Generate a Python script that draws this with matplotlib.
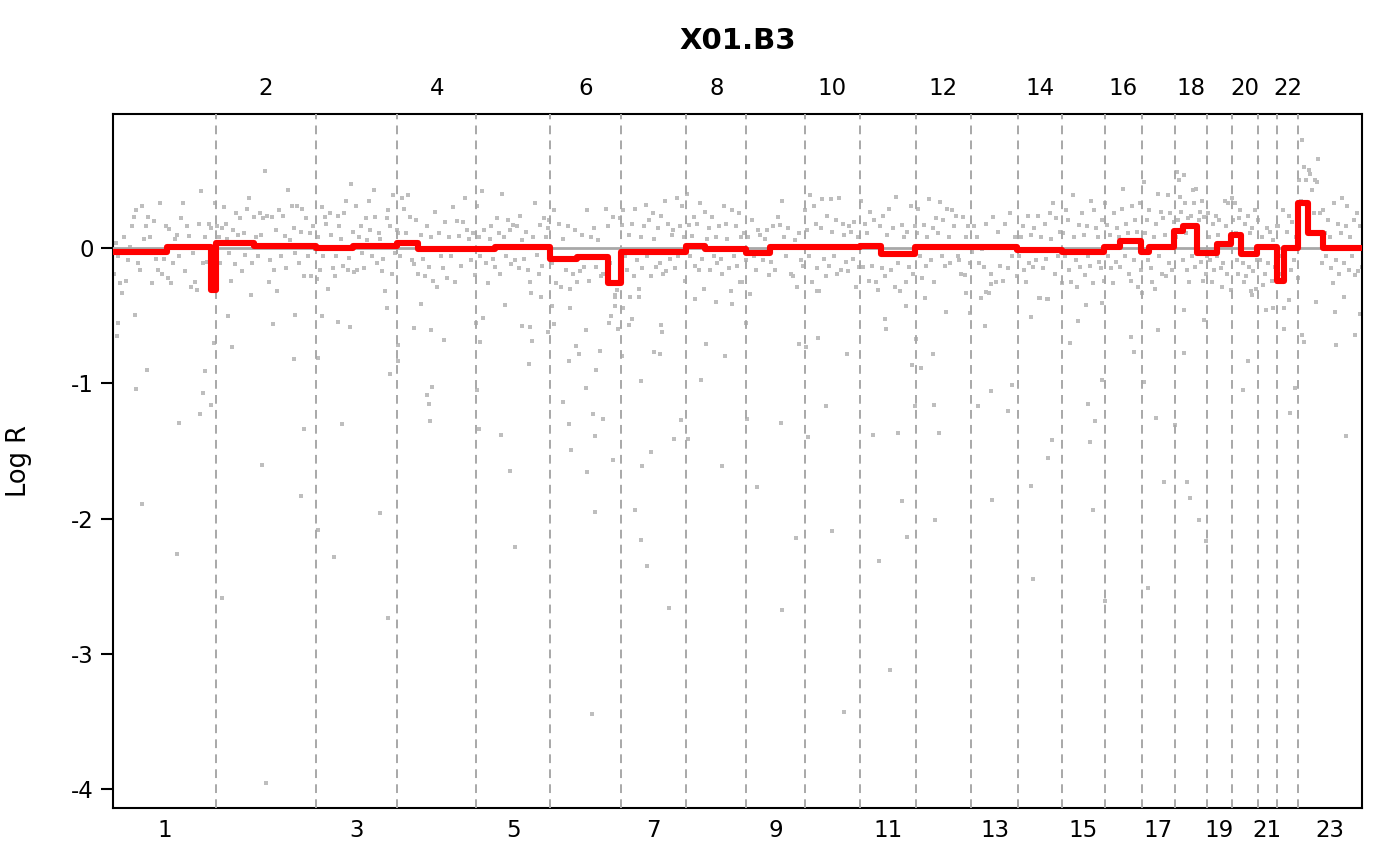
import numpy as np
import matplotlib
matplotlib.use("Agg")
import matplotlib.pyplot as plt

# ---------------- data ----------------
title = "X01.B3"
chrom_labels = [str(i) for i in range(1, 24)]
# chromosome lengths (Mb, hg19)
chrom_len_mb = [249.25, 243.20, 198.02, 191.15, 180.92, 171.12, 159.14, 146.36,
                141.21, 135.53, 135.01, 133.85, 115.17, 107.35, 102.53, 90.35,
                81.20, 78.08, 59.13, 63.03, 48.13, 51.30, 155.27]
ytick_values = [0, -1, -2, -3, -4]
ytick_labels = ["0", "-1", "-2", "-3", "-4"]

# log-ratio values of the probes inside the main band, per chromosome (left to right)
band_c1 = [-.19, .04, -.06, -.26, -.33, .08, -.24, -.09, .01, .16, .23, .28, -.11, -.16, .31, .07, .16, .23, .08, -.26,
           .20, -.08, -.16, .33, -.19, -.08, .16, -.22, .14, -.26, -.11, .07, .10, -.06, .22, .33, -.17, .16, .09, -.29,
           -.04, -.25, -.31, .18, .42, -.11, .08, -.10, .18, .15, -.04, .33]
band_c2 = [.16, .08, -.11, .15, .30, .18, .07, -.04, -.24, .13, -.12, .26, .10, .22, -.17, .11, -.05, .29, .37, -.35,
           -.11, .23, .08, -.06, .26, .10, .22, .57, .24, -.25, -.09, .23, -.16, .13, -.32, .28, -.06, .24, .09, -.15,
           .43, .06, .31, .15, -.04, .31, -.11, .12, .29, -.21, .22, -.06, .11, -.21, .16, -.01]
band_c3 = [-.23, .08, -.16, .30, -.06, .23, .18, -.30, .26, .10, -.15, -.21, -.06, .24, .16, .07, -.13, .26, .35, -.16,
           -.07, .47, .12, -.18, .31, -.16, .08, .16, -.04, -.15, .22, .06, .35, .13, -.06, .43, .23, -.11, .11, .07,
           -.17, -.08, -.32, .22, .28, .16, -.19, .39, -.04, .13]
band_c4 = [.11, -.06, .37, .29, .11, .39, .23, -.09, -.12, .21, -.19, .10, -.08, -.21, .16, -.14, .08, -.24, .27, -.29,
           .11, -.06, -.15, .19, -.22, .08, -.06, .30, -.25, .20, .09, -.13, .19, .37, .13, .07, -.09, .11, -.20]
band_c5 = [.31, .08, -.06, .42, .13, -.11, -.26, .07, .16, -.08, -.14, .22, .11, -.19, .40, .08, -.06, .21, .13, -.12,
           .17, -.09, .16, -.15, .24, .06, -.08, .12, -.16, -.25, -.33, .08, .33, -.05, -.19, .17, -.13, .22, .08, .15, .21]
band_c6 = [-.11, .28, -.26, .18, -.29, .07, -.16, .16, -.30, -.19, .13, -.25, -.17, .10, -.14, .28, -.24, .08, .15, -.14,
           .06, -.21, -.19, .29, .16, -.11, .23, -.36, -.31, .22]
band_c7 = [.17, .28, -.06, -.16, .10, -.36, .18, -.21, .29, -.09, -.30, .08, -.15, .16, .32, -.06, .21, -.21, .26, .07,
           -.14, .15, -.11, .24, -.19, .35, -.17, .18, -.08, .10, .13, -.15, .37, -.06, .16, .31, .08, -.24]
band_c8 = [.40, .17, -.06, .09, .23, -.13, .18, -.16, .33, -.08, -.30, .27, .07, .15, -.16, .23, -.06, .08, -.11, .16,
           -.08, -.19, .31, .18, .07, -.15, -.32, .28, -.06, .16, -.13, .26, .08, -.25, .11, -.09]
band_c9 = [.08, -.34, .21, -.06, -.16, .13, .10, -.09, .07, .13, -.20, -.10, .16, -.16, .23, .17, .35, .08, -.06, .15,
           -.19, -.21, .06, -.29, .11, -.09, -.13]
band_c10 = [.28, .13, -.06, .39, -.25, .31, .18, -.15, -.32, .15, .36, -.08, -.21, .24, -.13, .36, .12, -.06, .21, -.19,
            .37, -.16, .18, .10, -.10, -.17, .16, .12, -.08, .19, -.29, .08, -.14]
band_c11 = [.35, -.14, .18, .11, -.24, .27, -.13, .21, -.25, -.31, .16, -.15, .24, -.21, .10, .29, -.16, .15, -.29, .38,
            -.11, -.32, .17, .08, -.25, .12, -.14, .31, -.19, .16]
band_c12 = [.11, .29, -.06, -.22, .17, -.13, .08, .36, -.09, .15, -.25, .22, .11, .34, -.06, .21, -.13, .29, .08, -.11,
            .28, .16, .24, -.06, -.09, -.19, .23, -.20, .08, .16, -.11]
band_c13 = [-.03, .16, .08, -.11, -.01, -.14, .18, -.33, -.19, .23, -.25, .12, -.13, -.24, .18, -.15, .26, -.06, .08, -.21]
band_c14 = [-.06, .08, .16, -.16, -.25, .24, -.11, .10, -.14, .15, -.09, .24, -.37, .08, -.15, .18, -.08, -.38, .26, .07,
            .33, -.19, .22, -.06, .12, -.26]
band_c15 = [.11, -.06, .28, .21, -.16, -.25, .39, .08, -.09, -.29, .17, -.14, .26, .10, -.20, .16, -.06, -.13, .35, -.26,
            .28, .15, .08, -.10, -.15, .21, -.24]
band_c16 = [.33, .17, -.06, .10, -.15, -.26, .26, -.10, .15, .08, -.14, .29, .44, -.06, .18, .11, -.19, -.24, .31, -.09,
            .21, .12, -.29, .33, -.16]
band_c17 = [-.33, .49, .11, .21, -.09, .28, -.15, -.25, .08, -.30, .18, .40, -.06, .27, -.19, .22, .10, -.21, .39, -.11,
            .26, -.16, .12, .19]
band_c18 = [.08, .56, .21, .50, .38, .27, -.09, .54, .33, .11, -.16, .22, -.25, .24, -.06, .43, .33, -.14, .44, .06,
            .21, .27, -.10, .35, -.24, .23, -.19, -.06]
band_c19 = [.26, .08, -.09, -.25, .18, -.16, .24, -.06, .10, .21, -.15, -.29, -.11, .35, .16, -.19, .33, .08, -.31]
band_c20 = [.37, .21, .33, .11, -.09, -.19, .22, .28, .08, -.11, -.25, .18, -.21, .24, -.14, .11, -.32, .15, -.17, .28,
            -.30, -.09]
band_c21 = [.21, -.09, .08, -.27, -.19, .15, -.11, .12, -.24, .06, -.14, .16]
band_c22 = [.16, -.06, -.19, .28, -.11, .12, .24, -.16, .19, -.09, .08, -.22]
band_c23 = [.50, .35, .80, .60, .50, .28, .58, .55, .43, .26, .50, .49, .66, .26, -.11, .28, .11, -.06, .21, .08,
            -.15, -.26, .33, -.09, .18, -.19, .11, .37, -.11, .16, .31, -.16, .08, -.06, .21, -.20, .26, -.17, .16, -.14]

# scattered low probes: genome position (cumulative Mb) and log ratio
outlier_pos = [12.1, 9.7, 53.5, 82.6, 55.9, 70.5, 154.8, 159.6, 209.9, 218.7, 223.5, 238.1, 243.9, 264.8, 289.1,
               277.9, 362.0, 371.7, 388.7, 439.0, 456.8, 462.6, 442.2, 498.1, 497.3, 536.9, 556.4, 575.1, 546.6,
               507.8, 648.7, 668.1, 673.0, 691.0, 692.4, 665.7, 729.8, 771.9, 804.2, 762.9, 773.6, 767.7, 770.2,
               882.9, 899.0, 891.6, 885.3, 888.5, 942.7, 964.5, 976.7, 993.7, 1013.1, 1018.0, 1010.7, 1071.4,
               1056.1, 1067.5, 748.3, 953.4,
               1039.8, 1110.3, 1150.1, 1124.2, 1132.2, 1108.8, 1184.1, 1173.5, 1150.1, 1093.3, 1166.2, 1190.5,
               1108.8, 1170.3, 1112.7, 1214.8, 1152.6, 1171.1, 1163.8, 1219.6, 1219.6, 1210.9, 1204.3, 1226.9,
               1239.1, 1260.9, 1252.9, 1277.2, 1237.6, 1282.1, 1313.6, 1328.2, 1331.4, 1333.8, 1308.1, 1285.2,
               1268.2, 1282.8, 1297.4, 1350.8, 1363.0, 1380.0, 1397.0, 1428.6, 1440.0, 1413.3, 1465.0, 1486.9,
               1504.9, 1480.6, 1522.6, 1548.6, 1537.9, 1540.3, 1564.6, 1622.2, 1625.4, 1665.9, 1683.0, 1712.9,
               1731.6, 1687.8, 1746.8, 1660.3, 1710.4, 1783.3, 1777.0, 1845.7, 1862.0, 1874.9, 1879.0, 1887.8,
               1908.2, 1917.9, 1928.3, 1941.2, 1962.3, 1948.5, 1994.7, 1992.2, 2006.1, 1997.1, 1973.8, 1927.6,
               2023.1, 1950.9,
               2083.1, 2118.6, 2133.2, 2101.6, 2135.6, 2174.4, 2184.2, 2230.3, 2230.3, 2235.2, 2281.3, 2271.6,
               2253.9, 2269.2, 2325.1, 2346.2, 2363.9, 2369.8, 2385.8, 2373.7, 2380.9, 2403.8, 2411.1, 2402.9,
               2474.2, 2480.6, 2504.9, 2538.9, 2535.0, 2553.5, 2516.3, 2581.9, 2603.8, 2602.1, 2609.3, 2616.6,
               2640.2, 2655.5, 2652.4, 2745.4, 2757.5, 2859.6, 2871.7, 2845.0, 2888.7, 2894.6, 2971.3, 2970.0,
               2990.8, 2924.4, 3017.5, 2997.3, 2801.3, 2818.3, 2845.0, 2858.8, 3030.6, 2121.0, 2133.2, 2072.4,
               2108.8, 2767.2]
outlier_logr = [-0.556, -0.648, -0.498, -0.904, -1.044, -1.894, -2.264, -1.290, -1.226, -1.071, -0.912, -1.158,
                -0.701, -2.589, -0.733, -0.503, -1.604, -3.956, -0.564, -0.822, -1.834, -1.337, -0.495, -0.812,
                -2.087, -2.285, -1.303, -0.585, -0.545, -0.503, -1.960, -2.734, -0.933, -0.836, -0.714, -0.445,
                -0.593, -0.606, -0.683, -1.087, -1.028, -1.150, -1.277, -0.551, -0.519, -0.693, -1.047, -1.340,
                -1.382, -1.649, -2.211, -0.577, -0.582, -0.688, -0.860, -0.561, -0.622, -0.429, -0.411, -0.421,
                -0.363, -0.442, -0.609, -0.722, -0.786, -0.836, -0.762, -0.902, -1.034, -1.137, -1.229, -1.261,
                -1.300, -1.393, -1.493, -1.567, -1.657, -1.952, -3.444, -0.350, -0.429, -0.503, -0.551, -0.595,
                -0.445, -0.524, -0.569, -0.361, -0.801, -0.983, -0.772, -0.783, -0.569, -0.622, -1.509, -1.609,
                -1.937, -2.161, -2.351, -2.665, -1.414, -1.274, -1.414, -0.976, -0.712, -0.379, -0.400, -0.799,
                -0.416, -1.612, -0.252, -0.342, -0.551, -1.263, -1.765, -1.290, -2.676, -0.712, -0.728, -0.667,
                -1.168, -1.398, -2.092, -2.145, -0.318, -0.786, -3.431, -1.382, -2.314, -0.522, -0.601, -3.122,
                -1.369, -1.871, -2.137, -0.865, -0.889, -1.168, -1.158, -0.780, -1.369, -2.010, -0.368, -0.429,
                -0.474, -0.669,
                -0.482, -0.577, -1.057, -1.168, -1.863, -1.205, -1.010, -0.511, -1.760, -2.449, -1.419, -1.554,
                -0.371, -0.379, -0.704, -0.540, -0.421, -1.150, -1.277, -1.435, -1.937, -0.976, -2.607, -0.403,
                -0.659, -0.772, -0.989, -0.609, -1.258, -1.731, -2.517, -1.308, -0.456, -0.775, -1.728, -1.849,
                -2.008, -2.164, -0.530, -1.050, -0.833, -1.216, -1.036, -0.601, -0.643, -0.693, -0.717, -0.474,
                -0.363, -0.400, -0.643, -1.390, -0.458, -0.442, -0.445, -0.384, -0.485, -0.326, -0.265, -0.332,
                -0.366, -0.347]

# segmentation result (cumulative Mb start, end, segment mean)
seg_start = [0, 130.0, 237.5, 249.25, 341.8, 492.45, 582.3, 690.47, 740.3, 881.63, 927.4, 1062.54, 1126.2,
             1202.9, 1233.66, 1392.8, 1437.6, 1539.16, 1595.5, 1680.37, 1815.9, 1866.8, 1948.91, 2082.76,
             2197.93, 2305.28, 2407.81, 2447.8, 2498.16, 2518.7, 2579.36, 2599.6, 2635.3, 2684.0, 2716.57,
             2742.1, 2779.6, 2827.73, 2847.0, 2879.03, 2903.3, 2939.8]
seg_end = seg_start[1:] + [3034.30]
seg_value = [-0.027, 0.005, -0.31, 0.035, 0.017, 0.002, 0.015, 0.035, -0.007, -0.007, 0.008, -0.084, -0.064,
             -0.26, -0.027, 0.017, -0.007, -0.034, 0.01, 0.005, 0.017, -0.047, 0.01, 0.008, -0.015, -0.03, 0.01,
             0.054, -0.027, 0.01, 0.128, 0.165, -0.034, 0.03, 0.10, -0.044, 0.01, -0.244, 0.002, 0.335, 0.108,
             -0.002]

band_lists = [band_c1, band_c2, band_c3, band_c4, band_c5, band_c6, band_c7, band_c8, band_c9, band_c10,
              band_c11, band_c12, band_c13, band_c14, band_c15, band_c16, band_c17, band_c18, band_c19,
              band_c20, band_c21, band_c22, band_c23]

# ---------------- derived positions ----------------
chrom_len = np.array(chrom_len_mb)
chrom_end = np.cumsum(chrom_len)
chrom_start = chrom_end - chrom_len
chrom_mid = (chrom_start + chrom_end) / 2
genome_end = chrom_end[-1]

band_x, band_y = [], []
for s, L, vals in zip(chrom_start, chrom_len, band_lists):
    n = len(vals)
    band_x.extend(s + (np.arange(n) + 0.5) / n * L)
    band_y.extend(vals)

seg_x = np.column_stack([seg_start, seg_end]).ravel()
seg_y = np.repeat(seg_value, 2)

# ---------------- figure ----------------
W, H = 1400, 866
fig = plt.figure(figsize=(W / 100, H / 100), dpi=100)
left, right, top, bottom = 113.3, 1362.3, 114, 808
ax = fig.add_axes([left / W, 1 - bottom / H, (right - left) / W, (bottom - top) / H])

pt_col = "#BEBEBE"
ax.scatter(band_x, band_y, s=11, marker="s", c=pt_col, linewidths=0, zorder=2)
ax.scatter(outlier_pos, outlier_logr, s=11, marker="s", c=pt_col, linewidths=0, zorder=2)

for b in chrom_end[:-1]:
    ax.axvline(b, color="#A8A8A8", lw=1.4, linestyle=(0, (4.5, 3.2)), zorder=3)
ax.axhline(0, color="#A8A8A8", lw=2.0, zorder=3)

ax.plot(seg_x, seg_y, color="#FF0000", lw=4.4, solid_joinstyle="round",
        solid_capstyle="round", zorder=4)

ax.set_xlim(0, genome_end)
ax.set_ylim(-4.140, 0.991)

for sp in ax.spines.values():
    sp.set_linewidth(1.5)
    sp.set_color("black")

fs = 16.5
ax.set_yticks(ytick_values)
ax.set_yticklabels(ytick_labels, fontsize=fs)
ax.tick_params(axis="y", direction="out", length=8.5, width=1.5, pad=5.5)

odd_idx = list(range(0, 23, 2))
even_idx = list(range(1, 23, 2))
ax.set_xticks(chrom_mid[odd_idx])
ax.set_xticklabels([chrom_labels[i] for i in odd_idx], fontsize=fs)
ax.tick_params(axis="x", length=0, pad=8)

sec = ax.secondary_xaxis("top")
sec.set_xticks(chrom_mid[even_idx])
sec.set_xticklabels([chrom_labels[i] for i in even_idx], fontsize=fs)
sec.tick_params(axis="x", length=0, pad=10)
sec.spines["top"].set_visible(False)

fig.text(737.5 / W, 1 - 49.3 / H, title, fontsize=21, fontweight="bold",
         ha="center", va="baseline")
fig.text(19 / W, 1 - 461 / H, "Log R", fontsize=18.5, rotation=90, ha="center", va="center")

fig.savefig("out.png", dpi=100)
